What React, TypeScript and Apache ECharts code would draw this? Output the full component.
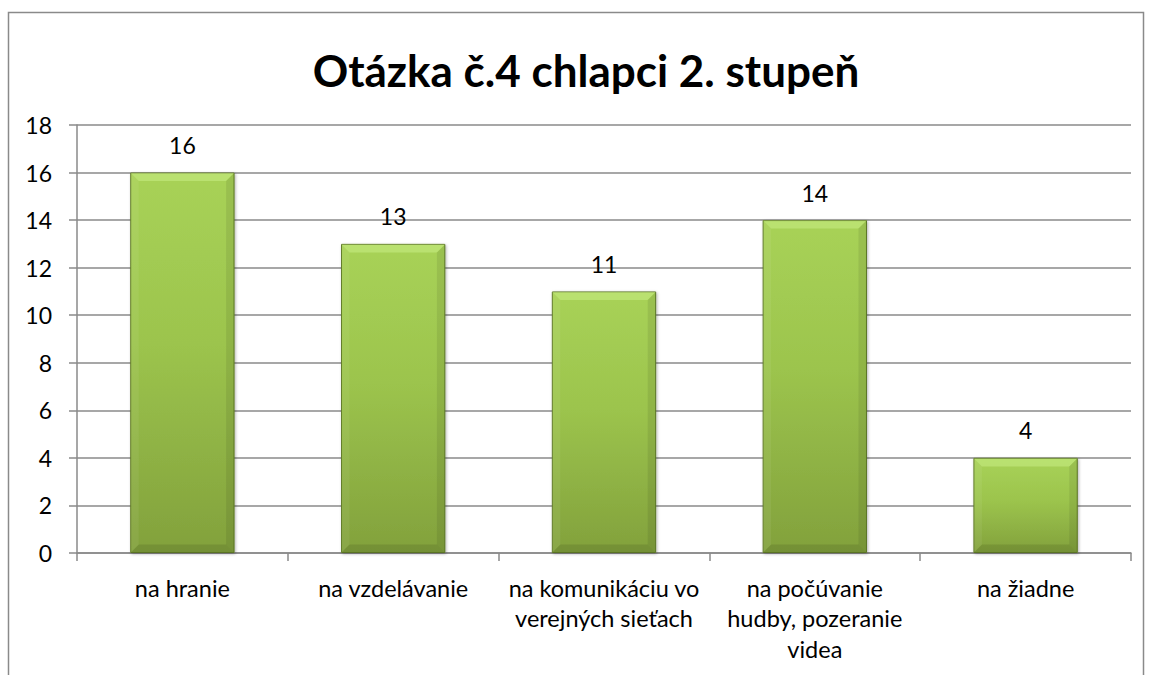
import React, { useEffect, useRef } from "react";
import * as echarts from "echarts";

const titleText = "Otázka č.4 chlapci 2. stupeň";
const categories = [
  "na hranie",
  "na vzdelávanie",
  "na komunikáciu vo\nverejných sieťach",
  "na počúvanie\nhudby, pozeranie\nvidea",
  "na žiadne",
];
const values = [16, 13, 11, 14, 4];
const yMin = 0;
const yMax = 18;
const yInterval = 2;

const FONT = "Lato, 'Open Sans', sans-serif";
const GRAY = "#8a8a8a";

export default function App() {
  const ref = useRef<HTMLDivElement>(null);
  useEffect(() => {
    if (!ref.current) return;
    const chart = echarts.init(ref.current, undefined, { renderer: "svg" });
    const bevel = 8;
    chart.setOption({
      animation: false,
      backgroundColor: "#ffffff",
      graphic: [
        {
          type: "rect",
          shape: { x: 8.5, y: 12.5, width: 1135, height: 700 },
          style: { fill: "none", stroke: GRAY, lineWidth: 1.5 },
          silent: true,
          z: 10,
        },
        {
          type: "text",
          x: 586,
          y: 70,
          style: {
            text: titleText,
            fontFamily: FONT,
            fontSize: 44,
            fontWeight: "bold",
            fill: "#000",
            textAlign: "center",
            textVerticalAlign: "middle",
          },
          silent: true,
        },
      ],
      grid: { left: 77, right: 21, top: 125, bottom: 122, containLabel: false },
      xAxis: {
        type: "category",
        data: categories,
        axisLine: { lineStyle: { color: GRAY, width: 1.5 } },
        axisTick: { show: true, alignWithLabel: false, length: 8, lineStyle: { color: GRAY, width: 1.5 } },
        axisLabel: {
          color: "#000",
          fontFamily: FONT,
          fontSize: 23.5,
          lineHeight: 30.5,
          margin: 19.5,
          interval: 0,
        },
      },
      yAxis: {
        type: "value",
        min: yMin,
        max: yMax,
        interval: yInterval,
        axisLine: { show: true, lineStyle: { color: GRAY, width: 1.5 } },
        axisTick: { show: true, length: 8, lineStyle: { color: GRAY, width: 1.5 } },
        splitLine: { lineStyle: { color: GRAY, width: 1.5 } },
        axisLabel: { color: "#000", fontFamily: FONT, fontSize: 23, margin: 25 },
      },
      series: [
        {
          type: "bar",
          data: values,
          barWidth: "49.5%",
          itemStyle: {
            color: new echarts.graphic.LinearGradient(0, 0, 0, 1, [
              { offset: 0, color: "#a8d257" },
              { offset: 0.45, color: "#9cc44d" },
              { offset: 1, color: "#82a13c" },
            ]),
            borderColor: "#5f7a26",
            borderWidth: 1,
            shadowColor: "rgba(0,0,0,0.3)",
            shadowBlur: 3,
            shadowOffsetX: 1,
            shadowOffsetY: 1,
          },
          label: {
            show: true,
            position: "top",
            distance: 16,
            color: "#000",
            fontFamily: FONT,
            fontSize: 23,
          },
        },
        {
          type: "custom",
          data: values.map((v, i) => [i, v]),
          silent: true,
          z: 3,
          renderItem: (params: any, api: any) => {
            const idx = api.value(0);
            const val = api.value(1);
            const top = api.coord([idx, val]);
            const base = api.coord([idx, 0]);
            const w = api.size([1, 0])[0] * 0.495;
            const x0 = top[0] - w / 2 + 0.5;
            const x1 = top[0] + w / 2 - 0.5;
            const y0 = top[1] + 0.5;
            const y1 = base[1] - 0.5;
            const b = Math.min(bevel, (y1 - y0) / 2);
            return {
              type: "group",
              children: [
                {
                  type: "polygon",
                  shape: { points: [[x0, y0], [x1, y0], [x1 - b, y0 + b], [x0 + b, y0 + b]] },
                  style: { fill: "rgba(220,255,160,0.35)" },
                },
                {
                  type: "polygon",
                  shape: { points: [[x0, y0], [x0 + b, y0 + b], [x0 + b, y1 - b], [x0, y1]] },
                  style: { fill: "rgba(255,255,255,0.06)" },
                },
                {
                  type: "polygon",
                  shape: { points: [[x1, y0], [x1 - b, y0 + b], [x1 - b, y1 - b], [x1, y1]] },
                  style: { fill: "rgba(0,0,0,0.08)" },
                },
                {
                  type: "polygon",
                  shape: { points: [[x0, y1], [x0 + b, y1 - b], [x1 - b, y1 - b], [x1, y1]] },
                  style: { fill: "rgba(0,0,0,0.1)" },
                },
              ],
            };
          },
        },
      ],
    });
    return () => chart.dispose();
  }, []);
  return (
    <div
      ref={ref}
      style={{ position: "absolute", left: 0, top: 0, width: 1152, height: 675 }}
    />
  );
}
